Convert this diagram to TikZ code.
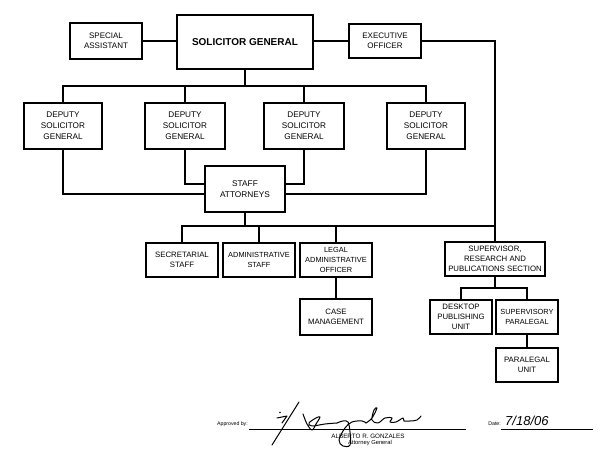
\documentclass[tikz,border=0pt]{standalone}
\usepackage{fontspec}
\setmainfont{Liberation Sans}
\begin{document}
\begin{tikzpicture}[x=1pt,y=-1pt,
  box/.style={draw,line width=2pt,align=center,inner sep=0pt,
    font=\fontsize{7.8}{10}\selectfont},
  dbox/.style={box,minimum width=78pt,minimum height=46pt,
    font=\fontsize{8.2}{11}\selectfont},
  conn/.style={line width=2pt},
  small/.style={font=\fontsize{5.2}{6}\selectfont,inner sep=0pt},
  sig/.style={line width=1pt,line cap=round,line join=round}]
\useasboundingbox (0,0) rectangle (600,454);

% top row
\node[box,minimum width=72pt,minimum height=36pt,font=\fontsize{8}{10}\selectfont] (sa) at (106,41) {SPECIAL\\ASSISTANT};
\node[box,minimum width=136pt,minimum height=54pt,font=\fontsize{10}{12}\selectfont\bfseries] (sg) at (245,42) {SOLICITOR GENERAL};
\node[box,minimum width=72pt,minimum height=34pt,font=\fontsize{8}{10}\selectfont] (eo) at (385,41) {EXECUTIVE\\OFFICER};

% deputies
\node[dbox] (d1) at (63,126) {DEPUTY\\SOLICITOR\\GENERAL};
\node[dbox,minimum width=80pt] (d2) at (185,126) {DEPUTY\\SOLICITOR\\GENERAL};
\node[dbox,minimum width=80pt] (d3) at (304,126) {DEPUTY\\SOLICITOR\\GENERAL};
\node[dbox] (d4) at (426,126) {DEPUTY\\SOLICITOR\\GENERAL};

\node[box,minimum width=80pt,minimum height=46pt,font=\fontsize{8.3}{11}\selectfont] (st) at (245,189) {STAFF\\ATTORNEYS};

% lower row
\node[box,minimum width=72pt,minimum height=34pt] (ss) at (182,260) {SECRETARIAL\\STAFF};
\node[box,minimum width=72pt,minimum height=34pt,font=\fontsize{7.4}{10}\selectfont] (as) at (259,260) {ADMINISTRATIVE\\STAFF};
\node[box,minimum width=72pt,minimum height=34pt,font=\fontsize{7.4}{10}\selectfont] (lao) at (336,260) {LEGAL\\ADMINISTRATIVE\\OFFICER};
\node[box,minimum width=72pt,minimum height=36pt] (cm) at (336,317) {CASE\\MANAGEMENT};

\node[box,minimum width=100pt,minimum height=34pt] (sup) at (495,259) {SUPERVISOR,\\RESEARCH AND\\PUBLICATIONS SECTION};
\node[box,minimum width=62pt,minimum height=34pt] (dp) at (461,317) {DESKTOP\\PUBLISHING\\UNIT};
\node[box,minimum width=62pt,minimum height=34pt,font=\fontsize{7.4}{10}\selectfont] (sp) at (527,317) {SUPERVISORY\\PARALEGAL};
\node[box,minimum width=62pt,minimum height=34pt] (pu) at (527,365) {PARALEGAL\\UNIT};

% connectors
\coordinate (b1) at (245,86);
\coordinate (b2) at (245,226);
\coordinate (b3) at (495,288);
\draw[conn] (sa.east) -- (sa.east -| sg.west);
\draw[conn] (eo.west) -- (eo.west -| sg.east);
\draw[conn] (eo.east) -| (sup.north);
\draw[conn] (sg.south) -- (b1);
\draw[conn] (d1.north) |- (b1) -| (d4.north);
\draw[conn] (d2.north) -- (d2.north |- b1);
\draw[conn] (d3.north) -- (d3.north |- b1);
\draw[conn] (d1.south) |- ([yshift=-5pt]st.west);
\draw[conn] (d2.south) |- ([yshift=5pt]st.west);
\draw[conn] (d3.south) |- ([yshift=5pt]st.east);
\draw[conn] (d4.south) |- ([yshift=-5pt]st.east);
\draw[conn] (st.south) -- (b2);
\draw[conn] (ss.north) |- (b2 -| sup.north);
\draw[conn] (as.north) -- (as.north |- b2);
\draw[conn] (lao.north) -- (lao.north |- b2);
\draw[conn] (lao.south) -- (cm.north);
\draw[conn] (sup.south) -- (b3);
\draw[conn] (dp.north) |- (b3) -| (sp.north);
\draw[conn] (sp.south) -- (pu.north);

% approval block
\node[small,anchor=base east] (apb) at (248,425) {Approved by:};
\coordinate (l1a) at (249,429);
\coordinate (l1b) at (466,429);
\draw[line width=0.6pt] (l1a) -- (l1b);
\node[font=\fontsize{6.3}{7}\selectfont,inner sep=0pt] (ag) at (368,436) {ALBERTO R. GONZALES};
\node[font=\fontsize{5.8}{7}\selectfont,inner sep=0pt] (agt) at (370,443) {Attorney General};
\node[small,anchor=base east] (dt) at (501,425) {Date:};
\coordinate (l2a) at (501,429);
\coordinate (l2b) at (593,429);
\draw[line width=0.6pt] (l2a) -- (l2b);
\node[font=\fontsize{13}{14}\selectfont\itshape,inner sep=0pt,anchor=base west] (dv) at (505,425) {7/18/06};

% signature strokes
\draw[sig] (272,445) -- (299,402);
\draw[sig] (277,418) -- (287,416) -- (282,423);
\fill (280,412.5) circle (0.9);
\draw[sig] plot[smooth,tension=0.6] coordinates {(303,414) (307,424) (312,430) (316,424) (320,417) (316,418) (309,423) (312,426) (325,424) (337,423)};
\draw[sig] plot[smooth,tension=0.6] coordinates {(337,423) (343,421) (348,422) (350,432) (350,445) (343,446) (339,440) (345,428) (352,422) (362,421) (366,423)};
\draw[sig] plot[smooth,tension=0.6] coordinates {(366,423) (372,418) (377,408) (374,410) (372,420) (378,423) (385,418) (392,418) (390,422) (396,422) (403,418) (404,421) (410,421) (417,420) (421,416)};
\end{tikzpicture}
\end{document}
